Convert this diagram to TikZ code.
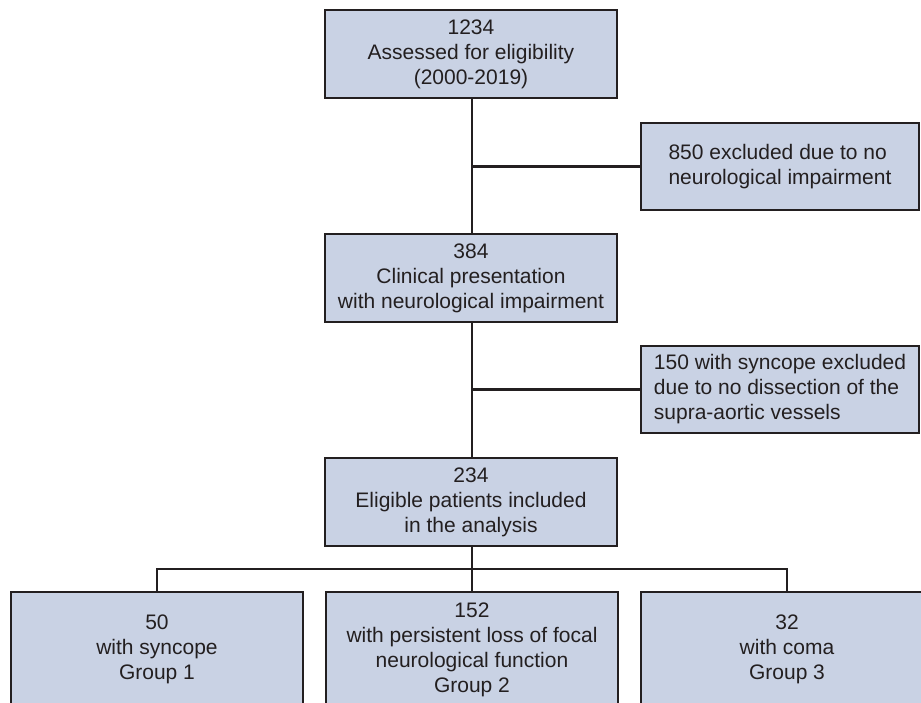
\documentclass[tikz,border=0pt]{standalone}
\usepackage{fontspec}
\setmainfont{Liberation Sans}
\definecolor{boxfill}{RGB}{201,210,228}
\definecolor{ink}{RGB}{35,31,32}
\begin{document}
\begin{tikzpicture}[x=1pt,y=-1pt,
  box/.style={draw=ink, fill=boxfill, line width=2.2pt, inner sep=0pt,
    text=ink, font=\fontsize{21}{25}\selectfont},
  mainbox/.style={box, minimum width=292pt, minimum height=88pt, align=center},
  sidebox/.style={box, minimum width=278pt, minimum height=87pt, align=left},
  groupbox/.style={box, minimum width=292pt, minimum height=115pt, align=center},
  conn/.style={draw=ink, line width=2.2pt}]
\useasboundingbox (0,0) rectangle (921,703);
\node[mainbox] (a) at (471,54) {1234\\Assessed for eligibility\\(2000-2019)};
\node[mainbox] (b) at (471,278) {384\\Clinical presentation\\with neurological impairment};
\node[mainbox] (c) at (471,502) {234\\Eligible patients included\\in the analysis};
\node[sidebox] (e1) at (780,166.5) {850 excluded due to no\\neurological impairment};
\node[sidebox] (e2) at (780,389.5) {150 with syncope excluded\\due to no dissection of the\\supra-aortic vessels};
\node[groupbox] (g1) at (157,649.5) {50\\with syncope\\Group 1};
\node[groupbox] (g2) at (472,649.5) {152\\with persistent loss of focal\\neurological function\\Group 2};
\node[groupbox] (g3) at (787,649.5) {32\\with coma\\Group 3};
\coordinate (j1) at (472,166.5);
\coordinate (j2) at (472,389.5);
\coordinate (bar) at (472,569);
\draw[conn] (a.south -| j1) -- (b.north -| j1);
\draw[conn] (b.south -| j2) -- (c.north -| j2);
\draw[conn] (j1) -- (e1.west);
\draw[conn] (j2) -- (e2.west);
\draw[conn] (c.south -| bar) -- (g2.north -| bar);
\draw[conn] (g1.north) |- (bar) -| (g3.north);
\end{tikzpicture}
\end{document}
